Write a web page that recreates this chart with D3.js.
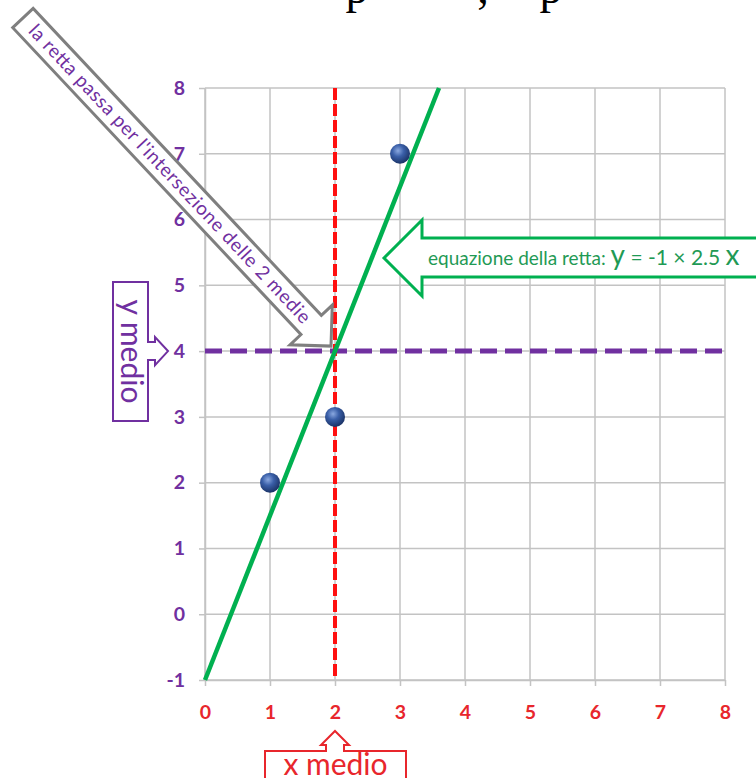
<!DOCTYPE html>
<html>
<head>
<meta charset="utf-8">
<script src="https://cdn.jsdelivr.net/npm/d3@7"></script>
<style>
  html, body { margin: 0; padding: 0; background: #ffffff; }
  svg { display: block; }
</style>
</head>
<body>
<script>
// ---- data ----
const xTicks = [0, 1, 2, 3, 4, 5, 6, 7, 8];
const yTicks = [-1, 0, 1, 2, 3, 4, 5, 6, 7, 8];
const pointX = [1, 2, 3];
const pointY = [2, 3, 7];
const fitIntercept = -1;
const fitSlope = 2.5;
const fitRange = [0, 3.6];
const labelArrow = "la retta passa per l'intersezione delle 2 medie";
const labelEq = "equazione della retta: ";
const labelXMean = "x medio";
const labelYMean = "y medio";

const W = 756, H = 778;
const purple = "#7030a0", red = "#e8262c", green = "#00b050", grid = "#c3c3c3";
const font = "Lato, 'Open Sans', sans-serif";

const svg = d3.select("body").append("svg").attr("width", W).attr("height", H);

const x = d3.scaleLinear().domain([0, 8]).range([205, 725]);
const y = d3.scaleLinear().domain([-1, 8]).range([680, 88]);

const meanX = d3.mean(pointX);
const meanY = d3.mean(pointY);

// text line running above the figure (only its lowest part is inside the page)
const topText = svg.append("g").attr("font-family", "'Liberation Serif', serif")
  .attr("font-size", 46).attr("fill", "#000");
[["p", 357], [",", 483], ["p", 551]].forEach(([t, px]) => {
  topText.append("text").attr("x", px).attr("y", 3).attr("text-anchor", "middle").text(t);
});

// grid
const g = svg.append("g");
g.selectAll("line.vg").data(xTicks).join("line").attr("class", "vg")
  .attr("x1", d => x(d)).attr("x2", d => x(d))
  .attr("y1", y(8)).attr("y2", y(-1))
  .attr("stroke", grid).attr("stroke-width", 1.5);
g.selectAll("line.hg").data(yTicks).join("line").attr("class", "hg")
  .attr("x1", x(0)).attr("x2", x(8))
  .attr("y1", d => y(d)).attr("y2", d => y(d))
  .attr("stroke", grid).attr("stroke-width", 1.5);

// axes
const fmt = d => String(d);
const ax = svg.append("g").attr("transform", `translate(0,${y(-1)})`)
  .call(d3.axisBottom(x).tickValues(xTicks).tickFormat(fmt).tickSize(6).tickSizeOuter(0).tickPadding(19));
const ay = svg.append("g").attr("transform", `translate(${x(0)},0)`)
  .call(d3.axisLeft(y).tickValues(yTicks).tickFormat(fmt).tickSize(6).tickSizeOuter(0).tickPadding(14));
[ax, ay].forEach(a => {
  a.select(".domain").attr("stroke", grid).attr("stroke-width", 1.5);
  a.selectAll(".tick line").attr("stroke", grid).attr("stroke-width", 1.5);
  a.selectAll(".tick text").attr("font-family", font).attr("font-weight", "bold").attr("font-size", 19.5);
});
ax.selectAll(".tick text").attr("fill", red);
ay.selectAll(".tick text").attr("fill", purple);

// mean lines
svg.append("line")
  .attr("x1", x(0)).attr("x2", x(8)).attr("y1", y(meanY)).attr("y2", y(meanY))
  .attr("stroke", purple).attr("stroke-width", 5).attr("stroke-dasharray", "17 8");
svg.append("line")
  .attr("x1", x(meanX)).attr("x2", x(meanX)).attr("y1", y(8)).attr("y2", y(-1))
  .attr("stroke", "#ff1010").attr("stroke-width", 4).attr("stroke-dasharray", "12 4");

// fitted line
svg.append("path")
  .datum(fitRange.map(v => [v, fitIntercept + fitSlope * v]))
  .attr("d", d3.line().x(d => x(d[0])).y(d => y(d[1])))
  .attr("stroke", green).attr("stroke-width", 4.5).attr("fill", "none");

// points
const defs = svg.append("defs");
const rg = defs.append("radialGradient").attr("id", "ball").attr("cx", "40%").attr("cy", "35%").attr("r", "65%");
rg.append("stop").attr("offset", "0%").attr("stop-color", "#8aa8e0");
rg.append("stop").attr("offset", "45%").attr("stop-color", "#3a5fa8");
rg.append("stop").attr("offset", "100%").attr("stop-color", "#1b3468");
svg.selectAll("circle.pt").data(pointX.map((v, i) => [v, pointY[i]])).join("circle")
  .attr("class", "pt")
  .attr("cx", d => x(d[0])).attr("cy", d => y(d[1])).attr("r", 10)
  .attr("fill", "url(#ball)");

// ---- callouts ----
// x medio: box with upward arrow
{
  const cx = x(meanX), tipY = 731;
  const p = d3.path();
  p.moveTo(265, 751); p.lineTo(cx - 9, 751); p.lineTo(cx - 9, 745); p.lineTo(cx - 14, 745);
  p.lineTo(cx, tipY); p.lineTo(cx + 14, 745); p.lineTo(cx + 9, 745); p.lineTo(cx + 9, 751);
  p.lineTo(406, 751); p.lineTo(406, 790); p.lineTo(265, 790); p.closePath();
  svg.append("path").attr("d", p.toString()).attr("fill", "#fff")
    .attr("stroke", red).attr("stroke-width", 2);
  svg.append("text").attr("x", 335.5).attr("y", 775).attr("text-anchor", "middle")
    .attr("font-family", font).attr("font-size", 30).attr("fill", red).text(labelXMean);
}

// y medio: vertical box with right arrow
{
  const cy = y(meanY), tipX = 168;
  const p = d3.path();
  p.moveTo(113, 282); p.lineTo(148, 282); p.lineTo(148, cy - 9); p.lineTo(155, cy - 9);
  p.lineTo(155, cy - 14); p.lineTo(tipX, cy); p.lineTo(155, cy + 14); p.lineTo(155, cy + 9);
  p.lineTo(148, cy + 9); p.lineTo(148, 421); p.lineTo(113, 421); p.closePath();
  svg.append("path").attr("d", p.toString()).attr("fill", "#fff")
    .attr("stroke", purple).attr("stroke-width", 2);
  svg.append("text").attr("transform", "translate(121,351.5) rotate(90)")
    .attr("text-anchor", "middle")
    .attr("font-family", font).attr("font-size", 30).attr("fill", purple).text(labelYMean);
}

// equation: left arrow callout
{
  const tipX = 384, tipY = 258;
  const p = d3.path();
  p.moveTo(tipX, tipY); p.lineTo(422, 220); p.lineTo(422, 238); p.lineTo(770, 238);
  p.lineTo(770, 277); p.lineTo(422, 277); p.lineTo(422, 296); p.closePath();
  svg.append("path").attr("d", p.toString()).attr("fill", "#fff")
    .attr("stroke", green).attr("stroke-width", 3);
  const t = svg.append("text").attr("x", 428).attr("y", 265)
    .attr("font-family", font).attr("fill", "#1f9a55");
  t.append("tspan").attr("font-size", 19).text(labelEq);
  t.append("tspan").attr("font-size", 28).text("y");
  t.append("tspan").attr("font-size", 21).text(" = " + fitIntercept + " × " + fitSlope + " ");
  t.append("tspan").attr("font-size", 28).text("x");
}

// diagonal grey arrow pointing at the intersection of the two means
{
  const tip = [x(meanX) - 4, y(meanY) - 5];
  const ang = 46.8, L = 450, hw = 14, hh = 29, hl = 29;
  const a = svg.append("g").attr("transform", `translate(${tip[0]},${tip[1]}) rotate(${ang})`);
  const p = d3.path();
  p.moveTo(0, 0); p.lineTo(-hl, -hh); p.lineTo(-hl, -hw); p.lineTo(-L, -hw);
  p.lineTo(-L, hw); p.lineTo(-hl, hw); p.lineTo(-hl, hh); p.closePath();
  a.append("path").attr("d", p.toString()).attr("fill", "#fff")
    .attr("stroke", "#7f7f7f").attr("stroke-width", 3).attr("stroke-linejoin", "miter");
  a.append("text").attr("x", -437).attr("y", 6)
    .attr("font-family", font).attr("font-size", 19).attr("fill", purple)
    .attr("textLength", 402).attr("lengthAdjust", "spacing")
    .text(labelArrow);
}
</script>
</body>
</html>
